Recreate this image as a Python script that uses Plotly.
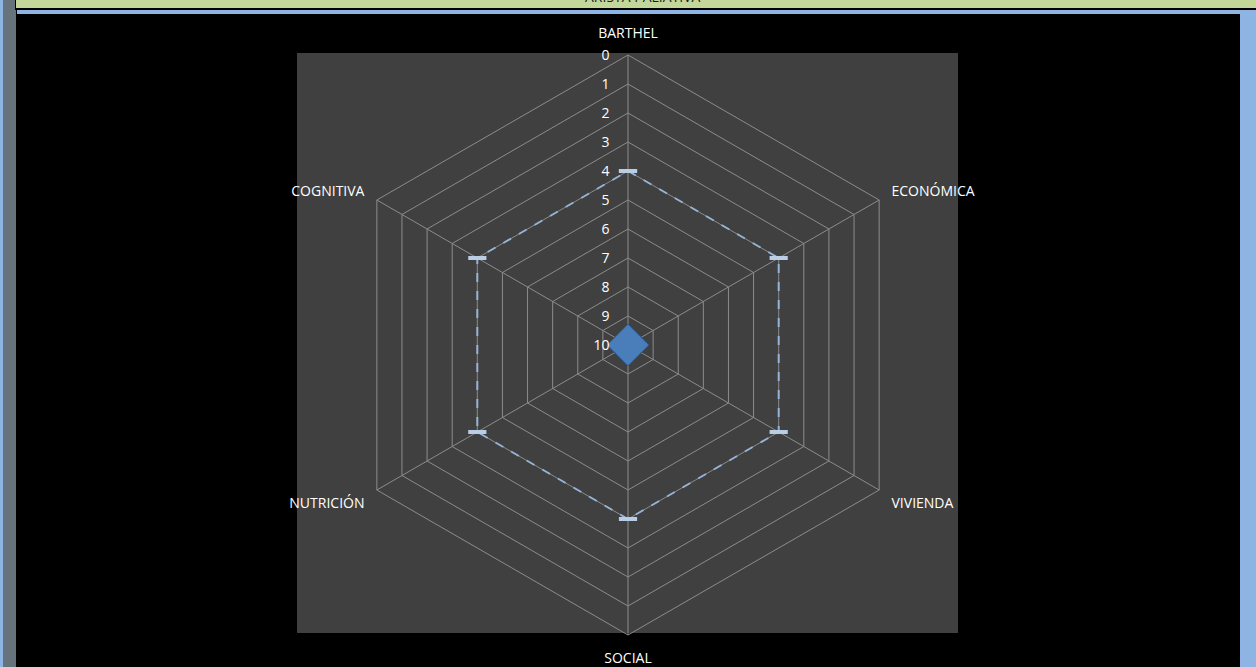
import plotly.graph_objects as go

# Dimensiones evaluadas en el radar
categorias = ["BARTHEL", "ECONÓMICA", "VIVIENDA", "SOCIAL", "NUTRICIÓN", "COGNITIVA"]
# Serie de referencia (línea discontinua)
valores_limite = [4, 4, 4, 4, 4, 4]
# Serie del paciente (rombo en el centro)
valores_paciente = [10, 10, 10, 10, 10, 10]
# Marcas del eje radial
ticks_radiales = [0, 1, 2, 3, 4, 5, 6, 7, 8, 9, 10]
titulo = "ARISTA PALIATIVA"

W, H = 1256, 667

def px(x):
    return x / W

def py(y):
    return 1 - y / H

fig = go.Figure()

# Polígono cerrado de la serie límite
fig.add_trace(go.Scatterpolar(
    r=valores_limite + valores_limite[:1],
    theta=categorias + categorias[:1],
    mode="lines+markers",
    line=dict(color="#95B3D7", width=2, dash="dash"),
    marker=dict(symbol="line-ew", size=13, color="#B9CDE5",
                line=dict(color="#B9CDE5", width=4)),
    showlegend=False,
    hoverinfo="r+theta",
))

fig.add_trace(go.Scatterpolar(
    r=valores_paciente,
    theta=categorias,
    mode="markers",
    marker=dict(symbol="diamond", size=32, color="#4A7EBB",
                line=dict(color="#2F5689", width=1)),
    showlegend=False,
    hoverinfo="r+theta",
))

shapes = [
    # franja lateral izquierda
    dict(type="rect", xref="paper", yref="paper", x0=0, x1=px(3), y0=0, y1=1,
         fillcolor="#8EB4E3", line=dict(width=0), layer="below"),
    dict(type="rect", xref="paper", yref="paper", x0=px(3), x1=px(16), y0=0, y1=1,
         fillcolor="#66737C", line=dict(width=0), layer="below"),
    # franja lateral derecha
    dict(type="rect", xref="paper", yref="paper", x0=px(1240), x1=1, y0=0, y1=py(10),
         fillcolor="#8EB4E3", line=dict(width=0), layer="below"),
    # banda azul superior
    dict(type="rect", xref="paper", yref="paper", x0=px(17), x1=1, y0=py(14), y1=py(10),
         fillcolor="#8EB4E3", line=dict(width=0), layer="below"),
    # banda del título
    dict(type="rect", xref="paper", yref="paper", x0=px(15), x1=1, y0=py(10), y1=1,
         fillcolor="#000000", line=dict(width=0), layer="below"),
    dict(type="rect", xref="paper", yref="paper", x0=px(16), x1=1, y0=py(8), y1=1,
         fillcolor="#C4D79B", line=dict(width=0), layer="below"),
    # área de trazado gris
    dict(type="rect", xref="paper", yref="paper", x0=px(297), x1=px(958),
         y0=py(633), y1=py(53),
         fillcolor="#404040", line=dict(width=0), layer="below"),
]

fig.update_layout(
    width=W, height=H,
    margin=dict(l=0, r=0, t=0, b=0),
    paper_bgcolor="#000000",
    plot_bgcolor="#000000",
    shapes=shapes,
    font=dict(family="'Open Sans', Lato, sans-serif", color="#FFFFFF", size=13),
    polar=dict(
        domain=dict(x=[px(338), px(918)], y=[py(635), py(55)]),
        bgcolor="rgba(0,0,0,0)",
        gridshape="linear",
        angularaxis=dict(
            rotation=90,
            direction="clockwise",
            showline=True,
            linecolor="#8C8C8C",
            linewidth=1,
            showgrid=True,
            gridcolor="#8C8C8C",
            gridwidth=1,
            ticks="outside",
            ticklen=11,
            tickcolor="rgba(0,0,0,0)",
            tickfont=dict(size=14, color="#FFFFFF"),
        ),
        radialaxis=dict(
            range=[10, 0],
            tickvals=ticks_radiales,
            angle=90,
            tickangle=90,
            side="counterclockwise",
            showline=False,
            showgrid=True,
            gridcolor="#8C8C8C",
            gridwidth=1,
            ticks="outside",
            ticklen=13,
            tickcolor="rgba(0,0,0,0)",
            tickfont=dict(size=14, color="#FFFFFF"),
        ),
    ),
    annotations=[
        dict(text=titulo, xref="paper", yref="paper", x=px(643), y=1,
             xanchor="center", yanchor="bottom", yshift=-8, showarrow=False,
             font=dict(size=14, color="#1A1A1A")),
    ],
)

fig.write_html("out.html")
